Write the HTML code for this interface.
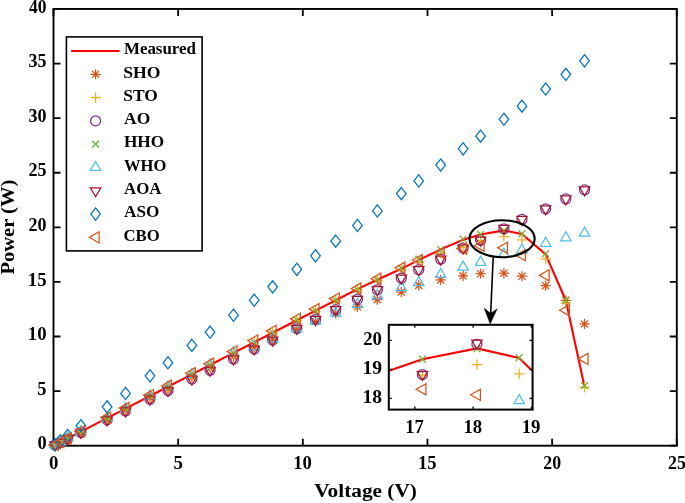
<!DOCTYPE html><html><head><meta charset="utf-8"><title>Power vs Voltage</title>
<style>html,body{margin:0;padding:0;background:#fff;overflow:hidden;}svg{display:block;will-change:transform;}text{font-family:"Liberation Serif",serif;font-weight:bold;fill:#000;}</style></head><body>
<svg width="685" height="503" viewBox="0 0 685 503">
<rect width="685" height="503" fill="#fff"/>
<g stroke="#000" stroke-width="1.9" fill="none">
<rect x="53.5" y="8.95" width="623.30" height="436.75"/>
<path d="M53.50 445.7V438.7M53.50 8.95V15.95M178.16 445.7V438.7M178.16 8.95V15.95M302.82 445.7V438.7M302.82 8.95V15.95M427.48 445.7V438.7M427.48 8.95V15.95M552.14 445.7V438.7M552.14 8.95V15.95M676.80 445.7V438.7M676.80 8.95V15.95M53.5 445.70H60.5M676.8 445.70H669.8M53.5 391.11H60.5M676.8 391.11H669.8M53.5 336.51H60.5M676.8 336.51H669.8M53.5 281.92H60.5M676.8 281.92H669.8M53.5 227.32H60.5M676.8 227.32H669.8M53.5 172.73H60.5M676.8 172.73H669.8M53.5 118.14H60.5M676.8 118.14H669.8M53.5 63.54H60.5M676.8 63.54H669.8M53.5 8.95H60.5M676.8 8.95H669.8" stroke-width="1.8"/>
</g>
<clipPath id="cm"><rect x="53.5" y="8.95" width="623.3" height="436.75"/></clipPath>
<polyline points="55.00,444.93 60.23,442.23 67.71,438.37 80.93,431.56 107.10,418.07 125.55,408.56 149.99,395.97 167.94,386.71 191.87,374.37 210.07,364.99 233.51,352.91 254.20,342.25 272.65,332.74 296.84,320.27 315.54,310.63 335.73,300.22 357.42,289.13 377.37,279.74 401.30,268.82 418.75,260.08 440.69,249.38 463.13,239.77 480.59,234.42 503.90,230.38 521.97,233.99 545.66,254.40 565.85,300.48 584.55,386.74" fill="none" stroke="#FF0000" stroke-width="2.1" stroke-linejoin="round"/>
<g fill="none" stroke-width="1.25" stroke-miterlimit="10">
<path transform="translate(55.00 444.96)" d="M-5.1 0H5.1M0 -5.1V5.1M-3.6 -3.6L3.6 3.6M-3.6 3.6L3.6 -3.6" stroke="#D95319"/>
<path transform="translate(60.23 442.37)" d="M-5.1 0H5.1M0 -5.1V5.1M-3.6 -3.6L3.6 3.6M-3.6 3.6L3.6 -3.6" stroke="#D95319"/>
<path transform="translate(67.71 438.67)" d="M-5.1 0H5.1M0 -5.1V5.1M-3.6 -3.6L3.6 3.6M-3.6 3.6L3.6 -3.6" stroke="#D95319"/>
<path transform="translate(80.93 432.13)" d="M-5.1 0H5.1M0 -5.1V5.1M-3.6 -3.6L3.6 3.6M-3.6 3.6L3.6 -3.6" stroke="#D95319"/>
<path transform="translate(107.10 419.17)" d="M-5.1 0H5.1M0 -5.1V5.1M-3.6 -3.6L3.6 3.6M-3.6 3.6L3.6 -3.6" stroke="#D95319"/>
<path transform="translate(125.55 410.04)" d="M-5.1 0H5.1M0 -5.1V5.1M-3.6 -3.6L3.6 3.6M-3.6 3.6L3.6 -3.6" stroke="#D95319"/>
<path transform="translate(149.99 397.95)" d="M-5.1 0H5.1M0 -5.1V5.1M-3.6 -3.6L3.6 3.6M-3.6 3.6L3.6 -3.6" stroke="#D95319"/>
<path transform="translate(167.94 389.07)" d="M-5.1 0H5.1M0 -5.1V5.1M-3.6 -3.6L3.6 3.6M-3.6 3.6L3.6 -3.6" stroke="#D95319"/>
<path transform="translate(191.87 377.22)" d="M-5.1 0H5.1M0 -5.1V5.1M-3.6 -3.6L3.6 3.6M-3.6 3.6L3.6 -3.6" stroke="#D95319"/>
<path transform="translate(210.07 368.22)" d="M-5.1 0H5.1M0 -5.1V5.1M-3.6 -3.6L3.6 3.6M-3.6 3.6L3.6 -3.6" stroke="#D95319"/>
<path transform="translate(233.51 356.62)" d="M-5.1 0H5.1M0 -5.1V5.1M-3.6 -3.6L3.6 3.6M-3.6 3.6L3.6 -3.6" stroke="#D95319"/>
<path transform="translate(254.20 347.35)" d="M-5.1 0H5.1M0 -5.1V5.1M-3.6 -3.6L3.6 3.6M-3.6 3.6L3.6 -3.6" stroke="#D95319"/>
<path transform="translate(272.65 339.38)" d="M-5.1 0H5.1M0 -5.1V5.1M-3.6 -3.6L3.6 3.6M-3.6 3.6L3.6 -3.6" stroke="#D95319"/>
<path transform="translate(296.84 329.20)" d="M-5.1 0H5.1M0 -5.1V5.1M-3.6 -3.6L3.6 3.6M-3.6 3.6L3.6 -3.6" stroke="#D95319"/>
<path transform="translate(315.54 321.53)" d="M-5.1 0H5.1M0 -5.1V5.1M-3.6 -3.6L3.6 3.6M-3.6 3.6L3.6 -3.6" stroke="#D95319"/>
<path transform="translate(335.73 313.47)" d="M-5.1 0H5.1M0 -5.1V5.1M-3.6 -3.6L3.6 3.6M-3.6 3.6L3.6 -3.6" stroke="#D95319"/>
<path transform="translate(357.42 306.81)" d="M-5.1 0H5.1M0 -5.1V5.1M-3.6 -3.6L3.6 3.6M-3.6 3.6L3.6 -3.6" stroke="#D95319"/>
<path transform="translate(377.37 299.61)" d="M-5.1 0H5.1M0 -5.1V5.1M-3.6 -3.6L3.6 3.6M-3.6 3.6L3.6 -3.6" stroke="#D95319"/>
<path transform="translate(401.30 292.07)" d="M-5.1 0H5.1M0 -5.1V5.1M-3.6 -3.6L3.6 3.6M-3.6 3.6L3.6 -3.6" stroke="#D95319"/>
<path transform="translate(418.75 285.41)" d="M-5.1 0H5.1M0 -5.1V5.1M-3.6 -3.6L3.6 3.6M-3.6 3.6L3.6 -3.6" stroke="#D95319"/>
<path transform="translate(440.69 279.95)" d="M-5.1 0H5.1M0 -5.1V5.1M-3.6 -3.6L3.6 3.6M-3.6 3.6L3.6 -3.6" stroke="#D95319"/>
<path transform="translate(463.13 275.80)" d="M-5.1 0H5.1M0 -5.1V5.1M-3.6 -3.6L3.6 3.6M-3.6 3.6L3.6 -3.6" stroke="#D95319"/>
<path transform="translate(480.59 273.73)" d="M-5.1 0H5.1M0 -5.1V5.1M-3.6 -3.6L3.6 3.6M-3.6 3.6L3.6 -3.6" stroke="#D95319"/>
<path transform="translate(503.90 273.18)" d="M-5.1 0H5.1M0 -5.1V5.1M-3.6 -3.6L3.6 3.6M-3.6 3.6L3.6 -3.6" stroke="#D95319"/>
<path transform="translate(521.97 276.24)" d="M-5.1 0H5.1M0 -5.1V5.1M-3.6 -3.6L3.6 3.6M-3.6 3.6L3.6 -3.6" stroke="#D95319"/>
<path transform="translate(545.66 285.63)" d="M-5.1 0H5.1M0 -5.1V5.1M-3.6 -3.6L3.6 3.6M-3.6 3.6L3.6 -3.6" stroke="#D95319"/>
<path transform="translate(565.85 300.48)" d="M-5.1 0H5.1M0 -5.1V5.1M-3.6 -3.6L3.6 3.6M-3.6 3.6L3.6 -3.6" stroke="#D95319"/>
<path transform="translate(584.55 323.96)" d="M-5.1 0H5.1M0 -5.1V5.1M-3.6 -3.6L3.6 3.6M-3.6 3.6L3.6 -3.6" stroke="#D95319"/>
<path transform="translate(55.00 444.93)" d="M-5.1 0H5.1M0 -5.1V5.1" stroke="#EDB120"/>
<path transform="translate(60.23 442.24)" d="M-5.1 0H5.1M0 -5.1V5.1" stroke="#EDB120"/>
<path transform="translate(67.71 438.39)" d="M-5.1 0H5.1M0 -5.1V5.1" stroke="#EDB120"/>
<path transform="translate(80.93 431.60)" d="M-5.1 0H5.1M0 -5.1V5.1" stroke="#EDB120"/>
<path transform="translate(107.10 418.14)" d="M-5.1 0H5.1M0 -5.1V5.1" stroke="#EDB120"/>
<path transform="translate(125.55 408.65)" d="M-5.1 0H5.1M0 -5.1V5.1" stroke="#EDB120"/>
<path transform="translate(149.99 396.09)" d="M-5.1 0H5.1M0 -5.1V5.1" stroke="#EDB120"/>
<path transform="translate(167.94 386.86)" d="M-5.1 0H5.1M0 -5.1V5.1" stroke="#EDB120"/>
<path transform="translate(191.87 374.56)" d="M-5.1 0H5.1M0 -5.1V5.1" stroke="#EDB120"/>
<path transform="translate(210.07 365.20)" d="M-5.1 0H5.1M0 -5.1V5.1" stroke="#EDB120"/>
<path transform="translate(233.51 353.15)" d="M-5.1 0H5.1M0 -5.1V5.1" stroke="#EDB120"/>
<path transform="translate(254.20 342.51)" d="M-5.1 0H5.1M0 -5.1V5.1" stroke="#EDB120"/>
<path transform="translate(272.65 333.02)" d="M-5.1 0H5.1M0 -5.1V5.1" stroke="#EDB120"/>
<path transform="translate(296.84 320.59)" d="M-5.1 0H5.1M0 -5.1V5.1" stroke="#EDB120"/>
<path transform="translate(315.54 310.98)" d="M-5.1 0H5.1M0 -5.1V5.1" stroke="#EDB120"/>
<path transform="translate(335.73 300.59)" d="M-5.1 0H5.1M0 -5.1V5.1" stroke="#EDB120"/>
<path transform="translate(357.42 289.56)" d="M-5.1 0H5.1M0 -5.1V5.1" stroke="#EDB120"/>
<path transform="translate(377.37 280.28)" d="M-5.1 0H5.1M0 -5.1V5.1" stroke="#EDB120"/>
<path transform="translate(401.30 269.91)" d="M-5.1 0H5.1M0 -5.1V5.1" stroke="#EDB120"/>
<path transform="translate(418.75 262.26)" d="M-5.1 0H5.1M0 -5.1V5.1" stroke="#EDB120"/>
<path transform="translate(440.69 253.09)" d="M-5.1 0H5.1M0 -5.1V5.1" stroke="#EDB120"/>
<path transform="translate(463.13 247.42)" d="M-5.1 0H5.1M0 -5.1V5.1" stroke="#EDB120"/>
<path transform="translate(480.59 240.43)" d="M-5.1 0H5.1M0 -5.1V5.1" stroke="#EDB120"/>
<path transform="translate(503.90 236.50)" d="M-5.1 0H5.1M0 -5.1V5.1" stroke="#EDB120"/>
<path transform="translate(521.97 239.99)" d="M-5.1 0H5.1M0 -5.1V5.1" stroke="#EDB120"/>
<path transform="translate(545.66 258.99)" d="M-5.1 0H5.1M0 -5.1V5.1" stroke="#EDB120"/>
<path transform="translate(565.85 303.21)" d="M-5.1 0H5.1M0 -5.1V5.1" stroke="#EDB120"/>
<path transform="translate(584.55 387.28)" d="M-5.1 0H5.1M0 -5.1V5.1" stroke="#EDB120"/>
<circle cx="55.00" cy="444.98" r="5" stroke="#7E2F8E"/>
<circle cx="60.23" cy="442.46" r="5" stroke="#7E2F8E"/>
<circle cx="67.71" cy="438.85" r="5" stroke="#7E2F8E"/>
<circle cx="80.93" cy="432.49" r="5" stroke="#7E2F8E"/>
<circle cx="107.10" cy="419.88" r="5" stroke="#7E2F8E"/>
<circle cx="125.55" cy="410.99" r="5" stroke="#7E2F8E"/>
<circle cx="149.99" cy="399.22" r="5" stroke="#7E2F8E"/>
<circle cx="167.94" cy="390.57" r="5" stroke="#7E2F8E"/>
<circle cx="191.87" cy="379.04" r="5" stroke="#7E2F8E"/>
<circle cx="210.07" cy="370.27" r="5" stroke="#7E2F8E"/>
<circle cx="233.51" cy="358.98" r="5" stroke="#7E2F8E"/>
<circle cx="254.20" cy="349.01" r="5" stroke="#7E2F8E"/>
<circle cx="272.65" cy="340.13" r="5" stroke="#7E2F8E"/>
<circle cx="296.84" cy="328.48" r="5" stroke="#7E2F8E"/>
<circle cx="315.54" cy="319.47" r="5" stroke="#7E2F8E"/>
<circle cx="335.73" cy="309.74" r="5" stroke="#7E2F8E"/>
<circle cx="357.42" cy="299.29" r="5" stroke="#7E2F8E"/>
<circle cx="377.37" cy="289.68" r="5" stroke="#7E2F8E"/>
<circle cx="401.30" cy="278.15" r="5" stroke="#7E2F8E"/>
<circle cx="418.75" cy="269.74" r="5" stroke="#7E2F8E"/>
<circle cx="440.69" cy="259.17" r="5" stroke="#7E2F8E"/>
<circle cx="463.13" cy="248.07" r="5" stroke="#7E2F8E"/>
<circle cx="480.59" cy="240.21" r="5" stroke="#7E2F8E"/>
<circle cx="503.90" cy="228.85" r="5" stroke="#7E2F8E"/>
<circle cx="521.97" cy="219.46" r="5" stroke="#7E2F8E"/>
<circle cx="545.66" cy="208.87" r="5" stroke="#7E2F8E"/>
<circle cx="565.85" cy="198.94" r="5" stroke="#7E2F8E"/>
<circle cx="584.55" cy="189.87" r="5" stroke="#7E2F8E"/>
<path transform="translate(55.00 444.93)" d="M-3.4 -3.4L3.4 3.4M-3.4 3.4L3.4 -3.4" stroke="#77AC30"/>
<path transform="translate(60.23 442.23)" d="M-3.4 -3.4L3.4 3.4M-3.4 3.4L3.4 -3.4" stroke="#77AC30"/>
<path transform="translate(67.71 438.38)" d="M-3.4 -3.4L3.4 3.4M-3.4 3.4L3.4 -3.4" stroke="#77AC30"/>
<path transform="translate(80.93 431.58)" d="M-3.4 -3.4L3.4 3.4M-3.4 3.4L3.4 -3.4" stroke="#77AC30"/>
<path transform="translate(107.10 418.09)" d="M-3.4 -3.4L3.4 3.4M-3.4 3.4L3.4 -3.4" stroke="#77AC30"/>
<path transform="translate(125.55 408.59)" d="M-3.4 -3.4L3.4 3.4M-3.4 3.4L3.4 -3.4" stroke="#77AC30"/>
<path transform="translate(149.99 396.01)" d="M-3.4 -3.4L3.4 3.4M-3.4 3.4L3.4 -3.4" stroke="#77AC30"/>
<path transform="translate(167.94 386.76)" d="M-3.4 -3.4L3.4 3.4M-3.4 3.4L3.4 -3.4" stroke="#77AC30"/>
<path transform="translate(191.87 374.44)" d="M-3.4 -3.4L3.4 3.4M-3.4 3.4L3.4 -3.4" stroke="#77AC30"/>
<path transform="translate(210.07 365.06)" d="M-3.4 -3.4L3.4 3.4M-3.4 3.4L3.4 -3.4" stroke="#77AC30"/>
<path transform="translate(233.51 352.99)" d="M-3.4 -3.4L3.4 3.4M-3.4 3.4L3.4 -3.4" stroke="#77AC30"/>
<path transform="translate(254.20 342.33)" d="M-3.4 -3.4L3.4 3.4M-3.4 3.4L3.4 -3.4" stroke="#77AC30"/>
<path transform="translate(272.65 332.83)" d="M-3.4 -3.4L3.4 3.4M-3.4 3.4L3.4 -3.4" stroke="#77AC30"/>
<path transform="translate(296.84 320.38)" d="M-3.4 -3.4L3.4 3.4M-3.4 3.4L3.4 -3.4" stroke="#77AC30"/>
<path transform="translate(315.54 310.75)" d="M-3.4 -3.4L3.4 3.4M-3.4 3.4L3.4 -3.4" stroke="#77AC30"/>
<path transform="translate(335.73 300.35)" d="M-3.4 -3.4L3.4 3.4M-3.4 3.4L3.4 -3.4" stroke="#77AC30"/>
<path transform="translate(357.42 289.56)" d="M-3.4 -3.4L3.4 3.4M-3.4 3.4L3.4 -3.4" stroke="#77AC30"/>
<path transform="translate(377.37 279.74)" d="M-3.4 -3.4L3.4 3.4M-3.4 3.4L3.4 -3.4" stroke="#77AC30"/>
<path transform="translate(401.30 268.27)" d="M-3.4 -3.4L3.4 3.4M-3.4 3.4L3.4 -3.4" stroke="#77AC30"/>
<path transform="translate(418.75 259.21)" d="M-3.4 -3.4L3.4 3.4M-3.4 3.4L3.4 -3.4" stroke="#77AC30"/>
<path transform="translate(440.69 249.71)" d="M-3.4 -3.4L3.4 3.4M-3.4 3.4L3.4 -3.4" stroke="#77AC30"/>
<path transform="translate(463.13 239.01)" d="M-3.4 -3.4L3.4 3.4M-3.4 3.4L3.4 -3.4" stroke="#77AC30"/>
<path transform="translate(480.59 234.42)" d="M-3.4 -3.4L3.4 3.4M-3.4 3.4L3.4 -3.4" stroke="#77AC30"/>
<path transform="translate(503.90 230.49)" d="M-3.4 -3.4L3.4 3.4M-3.4 3.4L3.4 -3.4" stroke="#77AC30"/>
<path transform="translate(521.97 233.88)" d="M-3.4 -3.4L3.4 3.4M-3.4 3.4L3.4 -3.4" stroke="#77AC30"/>
<path transform="translate(545.66 253.53)" d="M-3.4 -3.4L3.4 3.4M-3.4 3.4L3.4 -3.4" stroke="#77AC30"/>
<path transform="translate(565.85 300.15)" d="M-3.4 -3.4L3.4 3.4M-3.4 3.4L3.4 -3.4" stroke="#77AC30"/>
<path transform="translate(584.55 385.65)" d="M-3.4 -3.4L3.4 3.4M-3.4 3.4L3.4 -3.4" stroke="#77AC30"/>
<path transform="translate(55.00 444.93)" d="M0 -6L5.2 3L-5.2 3Z" stroke="#4DBEEE"/>
<path transform="translate(60.23 442.23)" d="M0 -6L5.2 3L-5.2 3Z" stroke="#4DBEEE"/>
<path transform="translate(67.71 438.37)" d="M0 -6L5.2 3L-5.2 3Z" stroke="#4DBEEE"/>
<path transform="translate(80.93 431.55)" d="M0 -6L5.2 3L-5.2 3Z" stroke="#4DBEEE"/>
<path transform="translate(107.10 418.05)" d="M0 -6L5.2 3L-5.2 3Z" stroke="#4DBEEE"/>
<path transform="translate(125.55 408.53)" d="M0 -6L5.2 3L-5.2 3Z" stroke="#4DBEEE"/>
<path transform="translate(149.99 395.92)" d="M0 -6L5.2 3L-5.2 3Z" stroke="#4DBEEE"/>
<path transform="translate(167.94 386.66)" d="M0 -6L5.2 3L-5.2 3Z" stroke="#4DBEEE"/>
<path transform="translate(191.87 374.31)" d="M0 -6L5.2 3L-5.2 3Z" stroke="#4DBEEE"/>
<path transform="translate(210.07 364.92)" d="M0 -6L5.2 3L-5.2 3Z" stroke="#4DBEEE"/>
<path transform="translate(233.51 352.83)" d="M0 -6L5.2 3L-5.2 3Z" stroke="#4DBEEE"/>
<path transform="translate(254.20 346.79)" d="M0 -6L5.2 3L-5.2 3Z" stroke="#4DBEEE"/>
<path transform="translate(272.65 338.83)" d="M0 -6L5.2 3L-5.2 3Z" stroke="#4DBEEE"/>
<path transform="translate(296.84 328.69)" d="M0 -6L5.2 3L-5.2 3Z" stroke="#4DBEEE"/>
<path transform="translate(315.54 321.07)" d="M0 -6L5.2 3L-5.2 3Z" stroke="#4DBEEE"/>
<path transform="translate(335.73 313.07)" d="M0 -6L5.2 3L-5.2 3Z" stroke="#4DBEEE"/>
<path transform="translate(357.42 304.41)" d="M0 -6L5.2 3L-5.2 3Z" stroke="#4DBEEE"/>
<path transform="translate(377.37 295.68)" d="M0 -6L5.2 3L-5.2 3Z" stroke="#4DBEEE"/>
<path transform="translate(401.30 287.60)" d="M0 -6L5.2 3L-5.2 3Z" stroke="#4DBEEE"/>
<path transform="translate(418.75 282.68)" d="M0 -6L5.2 3L-5.2 3Z" stroke="#4DBEEE"/>
<path transform="translate(440.69 274.38)" d="M0 -6L5.2 3L-5.2 3Z" stroke="#4DBEEE"/>
<path transform="translate(463.13 267.07)" d="M0 -6L5.2 3L-5.2 3Z" stroke="#4DBEEE"/>
<path transform="translate(480.59 262.26)" d="M0 -6L5.2 3L-5.2 3Z" stroke="#4DBEEE"/>
<path transform="translate(503.90 254.08)" d="M0 -6L5.2 3L-5.2 3Z" stroke="#4DBEEE"/>
<path transform="translate(521.97 250.04)" d="M0 -6L5.2 3L-5.2 3Z" stroke="#4DBEEE"/>
<path transform="translate(545.66 243.27)" d="M0 -6L5.2 3L-5.2 3Z" stroke="#4DBEEE"/>
<path transform="translate(565.85 237.81)" d="M0 -6L5.2 3L-5.2 3Z" stroke="#4DBEEE"/>
<path transform="translate(584.55 233.22)" d="M0 -6L5.2 3L-5.2 3Z" stroke="#4DBEEE"/>
<path transform="translate(55.00 444.98)" d="M0 6L5.2 -3L-5.2 -3Z" stroke="#A2142F"/>
<path transform="translate(60.23 442.46)" d="M0 6L5.2 -3L-5.2 -3Z" stroke="#A2142F"/>
<path transform="translate(67.71 438.85)" d="M0 6L5.2 -3L-5.2 -3Z" stroke="#A2142F"/>
<path transform="translate(80.93 432.49)" d="M0 6L5.2 -3L-5.2 -3Z" stroke="#A2142F"/>
<path transform="translate(107.10 419.88)" d="M0 6L5.2 -3L-5.2 -3Z" stroke="#A2142F"/>
<path transform="translate(125.55 410.99)" d="M0 6L5.2 -3L-5.2 -3Z" stroke="#A2142F"/>
<path transform="translate(149.99 399.22)" d="M0 6L5.2 -3L-5.2 -3Z" stroke="#A2142F"/>
<path transform="translate(167.94 390.57)" d="M0 6L5.2 -3L-5.2 -3Z" stroke="#A2142F"/>
<path transform="translate(191.87 379.04)" d="M0 6L5.2 -3L-5.2 -3Z" stroke="#A2142F"/>
<path transform="translate(210.07 370.27)" d="M0 6L5.2 -3L-5.2 -3Z" stroke="#A2142F"/>
<path transform="translate(233.51 358.98)" d="M0 6L5.2 -3L-5.2 -3Z" stroke="#A2142F"/>
<path transform="translate(254.20 349.01)" d="M0 6L5.2 -3L-5.2 -3Z" stroke="#A2142F"/>
<path transform="translate(272.65 340.13)" d="M0 6L5.2 -3L-5.2 -3Z" stroke="#A2142F"/>
<path transform="translate(296.84 328.48)" d="M0 6L5.2 -3L-5.2 -3Z" stroke="#A2142F"/>
<path transform="translate(315.54 319.47)" d="M0 6L5.2 -3L-5.2 -3Z" stroke="#A2142F"/>
<path transform="translate(335.73 309.74)" d="M0 6L5.2 -3L-5.2 -3Z" stroke="#A2142F"/>
<path transform="translate(357.42 299.29)" d="M0 6L5.2 -3L-5.2 -3Z" stroke="#A2142F"/>
<path transform="translate(377.37 289.68)" d="M0 6L5.2 -3L-5.2 -3Z" stroke="#A2142F"/>
<path transform="translate(401.30 278.15)" d="M0 6L5.2 -3L-5.2 -3Z" stroke="#A2142F"/>
<path transform="translate(418.75 269.74)" d="M0 6L5.2 -3L-5.2 -3Z" stroke="#A2142F"/>
<path transform="translate(440.69 259.17)" d="M0 6L5.2 -3L-5.2 -3Z" stroke="#A2142F"/>
<path transform="translate(463.13 248.07)" d="M0 6L5.2 -3L-5.2 -3Z" stroke="#A2142F"/>
<path transform="translate(480.59 240.21)" d="M0 6L5.2 -3L-5.2 -3Z" stroke="#A2142F"/>
<path transform="translate(503.90 228.42)" d="M0 6L5.2 -3L-5.2 -3Z" stroke="#A2142F"/>
<path transform="translate(521.97 219.46)" d="M0 6L5.2 -3L-5.2 -3Z" stroke="#A2142F"/>
<path transform="translate(545.66 208.87)" d="M0 6L5.2 -3L-5.2 -3Z" stroke="#A2142F"/>
<path transform="translate(565.85 198.94)" d="M0 6L5.2 -3L-5.2 -3Z" stroke="#A2142F"/>
<path transform="translate(584.55 189.87)" d="M0 6L5.2 -3L-5.2 -3Z" stroke="#A2142F"/>
<path transform="translate(55.00 444.62)" d="M0 -6.1L4.8 0L0 6.1L-4.8 0Z" stroke="#0072BD"/>
<path transform="translate(60.23 440.82)" d="M0 -6.1L4.8 0L0 6.1L-4.8 0Z" stroke="#0072BD"/>
<path transform="translate(67.71 435.40)" d="M0 -6.1L4.8 0L0 6.1L-4.8 0Z" stroke="#0072BD"/>
<path transform="translate(80.93 425.82)" d="M0 -6.1L4.8 0L0 6.1L-4.8 0Z" stroke="#0072BD"/>
<path transform="translate(107.10 406.85)" d="M0 -6.1L4.8 0L0 6.1L-4.8 0Z" stroke="#0072BD"/>
<path transform="translate(125.55 393.48)" d="M0 -6.1L4.8 0L0 6.1L-4.8 0Z" stroke="#0072BD"/>
<path transform="translate(149.99 375.77)" d="M0 -6.1L4.8 0L0 6.1L-4.8 0Z" stroke="#0072BD"/>
<path transform="translate(167.94 362.76)" d="M0 -6.1L4.8 0L0 6.1L-4.8 0Z" stroke="#0072BD"/>
<path transform="translate(191.87 345.41)" d="M0 -6.1L4.8 0L0 6.1L-4.8 0Z" stroke="#0072BD"/>
<path transform="translate(210.07 332.22)" d="M0 -6.1L4.8 0L0 6.1L-4.8 0Z" stroke="#0072BD"/>
<path transform="translate(233.51 315.23)" d="M0 -6.1L4.8 0L0 6.1L-4.8 0Z" stroke="#0072BD"/>
<path transform="translate(254.20 300.23)" d="M0 -6.1L4.8 0L0 6.1L-4.8 0Z" stroke="#0072BD"/>
<path transform="translate(272.65 286.86)" d="M0 -6.1L4.8 0L0 6.1L-4.8 0Z" stroke="#0072BD"/>
<path transform="translate(296.84 269.33)" d="M0 -6.1L4.8 0L0 6.1L-4.8 0Z" stroke="#0072BD"/>
<path transform="translate(315.54 255.78)" d="M0 -6.1L4.8 0L0 6.1L-4.8 0Z" stroke="#0072BD"/>
<path transform="translate(335.73 241.14)" d="M0 -6.1L4.8 0L0 6.1L-4.8 0Z" stroke="#0072BD"/>
<path transform="translate(357.42 225.42)" d="M0 -6.1L4.8 0L0 6.1L-4.8 0Z" stroke="#0072BD"/>
<path transform="translate(377.37 210.96)" d="M0 -6.1L4.8 0L0 6.1L-4.8 0Z" stroke="#0072BD"/>
<path transform="translate(401.30 193.62)" d="M0 -6.1L4.8 0L0 6.1L-4.8 0Z" stroke="#0072BD"/>
<path transform="translate(418.75 180.97)" d="M0 -6.1L4.8 0L0 6.1L-4.8 0Z" stroke="#0072BD"/>
<path transform="translate(440.69 165.06)" d="M0 -6.1L4.8 0L0 6.1L-4.8 0Z" stroke="#0072BD"/>
<path transform="translate(463.13 148.80)" d="M0 -6.1L4.8 0L0 6.1L-4.8 0Z" stroke="#0072BD"/>
<path transform="translate(480.59 136.15)" d="M0 -6.1L4.8 0L0 6.1L-4.8 0Z" stroke="#0072BD"/>
<path transform="translate(503.90 119.26)" d="M0 -6.1L4.8 0L0 6.1L-4.8 0Z" stroke="#0072BD"/>
<path transform="translate(521.97 106.15)" d="M0 -6.1L4.8 0L0 6.1L-4.8 0Z" stroke="#0072BD"/>
<path transform="translate(545.66 88.99)" d="M0 -6.1L4.8 0L0 6.1L-4.8 0Z" stroke="#0072BD"/>
<path transform="translate(565.85 74.35)" d="M0 -6.1L4.8 0L0 6.1L-4.8 0Z" stroke="#0072BD"/>
<path transform="translate(584.55 60.80)" d="M0 -6.1L4.8 0L0 6.1L-4.8 0Z" stroke="#0072BD"/>
<path transform="translate(55.00 444.92)" d="M-6.3 0L3.5 -5.6L3.5 5.6Z" stroke="#D95319"/>
<path transform="translate(60.23 442.17)" d="M-6.3 0L3.5 -5.6L3.5 5.6Z" stroke="#D95319"/>
<path transform="translate(67.71 438.26)" d="M-6.3 0L3.5 -5.6L3.5 5.6Z" stroke="#D95319"/>
<path transform="translate(80.93 431.34)" d="M-6.3 0L3.5 -5.6L3.5 5.6Z" stroke="#D95319"/>
<path transform="translate(107.10 417.62)" d="M-6.3 0L3.5 -5.6L3.5 5.6Z" stroke="#D95319"/>
<path transform="translate(125.55 407.96)" d="M-6.3 0L3.5 -5.6L3.5 5.6Z" stroke="#D95319"/>
<path transform="translate(149.99 395.16)" d="M-6.3 0L3.5 -5.6L3.5 5.6Z" stroke="#D95319"/>
<path transform="translate(167.94 385.76)" d="M-6.3 0L3.5 -5.6L3.5 5.6Z" stroke="#D95319"/>
<path transform="translate(191.87 373.22)" d="M-6.3 0L3.5 -5.6L3.5 5.6Z" stroke="#D95319"/>
<path transform="translate(210.07 363.69)" d="M-6.3 0L3.5 -5.6L3.5 5.6Z" stroke="#D95319"/>
<path transform="translate(233.51 351.42)" d="M-6.3 0L3.5 -5.6L3.5 5.6Z" stroke="#D95319"/>
<path transform="translate(254.20 340.58)" d="M-6.3 0L3.5 -5.6L3.5 5.6Z" stroke="#D95319"/>
<path transform="translate(272.65 330.91)" d="M-6.3 0L3.5 -5.6L3.5 5.6Z" stroke="#D95319"/>
<path transform="translate(296.84 318.89)" d="M-6.3 0L3.5 -5.6L3.5 5.6Z" stroke="#D95319"/>
<path transform="translate(315.54 309.14)" d="M-6.3 0L3.5 -5.6L3.5 5.6Z" stroke="#D95319"/>
<path transform="translate(335.73 298.62)" d="M-6.3 0L3.5 -5.6L3.5 5.6Z" stroke="#D95319"/>
<path transform="translate(357.42 288.47)" d="M-6.3 0L3.5 -5.6L3.5 5.6Z" stroke="#D95319"/>
<path transform="translate(377.37 278.75)" d="M-6.3 0L3.5 -5.6L3.5 5.6Z" stroke="#D95319"/>
<path transform="translate(401.30 267.72)" d="M-6.3 0L3.5 -5.6L3.5 5.6Z" stroke="#D95319"/>
<path transform="translate(418.75 260.08)" d="M-6.3 0L3.5 -5.6L3.5 5.6Z" stroke="#D95319"/>
<path transform="translate(440.69 252.87)" d="M-6.3 0L3.5 -5.6L3.5 5.6Z" stroke="#D95319"/>
<path transform="translate(463.13 248.62)" d="M-6.3 0L3.5 -5.6L3.5 5.6Z" stroke="#D95319"/>
<path transform="translate(480.59 245.78)" d="M-6.3 0L3.5 -5.6L3.5 5.6Z" stroke="#D95319"/>
<path transform="translate(503.90 247.85)" d="M-6.3 0L3.5 -5.6L3.5 5.6Z" stroke="#D95319"/>
<path transform="translate(521.97 255.17)" d="M-6.3 0L3.5 -5.6L3.5 5.6Z" stroke="#D95319"/>
<path transform="translate(545.66 275.37)" d="M-6.3 0L3.5 -5.6L3.5 5.6Z" stroke="#D95319"/>
<path transform="translate(565.85 310.31)" d="M-6.3 0L3.5 -5.6L3.5 5.6Z" stroke="#D95319"/>
<path transform="translate(584.55 358.90)" d="M-6.3 0L3.5 -5.6L3.5 5.6Z" stroke="#D95319"/>
</g>
<text x="48.93" y="468.50" font-size="18.4" textLength="9.43" lengthAdjust="spacingAndGlyphs">0</text>
<text x="173.55" y="468.50" font-size="18.4" textLength="9.46" lengthAdjust="spacingAndGlyphs">5</text>
<text x="293.28" y="468.50" font-size="18.4" textLength="18.59" lengthAdjust="spacingAndGlyphs">10</text>
<text x="417.94" y="468.50" font-size="18.4" textLength="18.57" lengthAdjust="spacingAndGlyphs">15</text>
<text x="543.34" y="468.50" font-size="18.4" textLength="17.83" lengthAdjust="spacingAndGlyphs">20</text>
<text x="668.00" y="468.50" font-size="18.4" textLength="17.81" lengthAdjust="spacingAndGlyphs">25</text>
<text x="37.40" y="449.30" font-size="18.4" textLength="9.20" lengthAdjust="spacingAndGlyphs">0</text>
<text x="37.36" y="394.71" font-size="18.4" textLength="9.22" lengthAdjust="spacingAndGlyphs">5</text>
<text x="27.79" y="340.11" font-size="18.4" textLength="18.82" lengthAdjust="spacingAndGlyphs">10</text>
<text x="27.80" y="285.52" font-size="18.4" textLength="18.80" lengthAdjust="spacingAndGlyphs">15</text>
<text x="28.54" y="230.92" font-size="18.4" textLength="18.04" lengthAdjust="spacingAndGlyphs">20</text>
<text x="28.54" y="176.33" font-size="18.4" textLength="18.02" lengthAdjust="spacingAndGlyphs">25</text>
<text x="28.62" y="121.74" font-size="18.4" textLength="17.97" lengthAdjust="spacingAndGlyphs">30</text>
<text x="28.62" y="67.14" font-size="18.4" textLength="17.95" lengthAdjust="spacingAndGlyphs">35</text>
<text x="29.05" y="12.55" font-size="18.4" textLength="17.51" lengthAdjust="spacingAndGlyphs">40</text>
<text x="314.17" y="496.90" font-size="19.8" textLength="102.78" lengthAdjust="spacingAndGlyphs">Voltage (V)</text>
<text transform="translate(14.20 274.55) rotate(-90)" x="0" y="0" font-size="19.3" textLength="94.85" lengthAdjust="spacingAndGlyphs">Power (W)</text>
<rect x="66.4" y="36.9" width="135.70" height="214.00" fill="#fff" stroke="#000" stroke-width="1.6"/>
<line x1="71.2" y1="50.95" x2="119.6" y2="50.95" stroke="#FF0000" stroke-width="2.1"/>
<text x="123.91" y="54.25" font-size="17.7" textLength="72.07" lengthAdjust="spacingAndGlyphs">Measured</text>
<g fill="none" stroke-width="1.25">
<path transform="translate(95.60 74.25)" d="M-5.1 0H5.1M0 -5.1V5.1M-3.6 -3.6L3.6 3.6M-3.6 3.6L3.6 -3.6" stroke="#D95319"/>
<path transform="translate(95.60 97.55)" d="M-5.1 0H5.1M0 -5.1V5.1" stroke="#EDB120"/>
<circle cx="95.60" cy="120.85" r="5" stroke="#7E2F8E"/>
<path transform="translate(95.60 144.15)" d="M-3.4 -3.4L3.4 3.4M-3.4 3.4L3.4 -3.4" stroke="#77AC30"/>
<path transform="translate(95.60 167.45)" d="M0 -6L5.2 3L-5.2 3Z" stroke="#4DBEEE"/>
<path transform="translate(95.60 190.75)" d="M0 6L5.2 -3L-5.2 -3Z" stroke="#A2142F"/>
<path transform="translate(95.60 214.05)" d="M0 -6.1L4.8 0L0 6.1L-4.8 0Z" stroke="#0072BD"/>
<path transform="translate(95.60 237.35)" d="M-6.3 0L3.5 -5.6L3.5 5.6Z" stroke="#D95319"/>
</g>
<text x="123.26" y="77.55" font-size="17.7" textLength="37.30" lengthAdjust="spacingAndGlyphs">SHO</text>
<text x="123.28" y="100.85" font-size="17.7" textLength="34.58" lengthAdjust="spacingAndGlyphs">STO</text>
<text x="124.03" y="124.15" font-size="17.7" textLength="26.23" lengthAdjust="spacingAndGlyphs">AO</text>
<text x="123.91" y="147.45" font-size="17.7" textLength="40.23" lengthAdjust="spacingAndGlyphs">HHO</text>
<text x="123.97" y="170.75" font-size="17.7" textLength="42.34" lengthAdjust="spacingAndGlyphs">WHO</text>
<text x="124.03" y="194.05" font-size="17.7" textLength="37.49" lengthAdjust="spacingAndGlyphs">AOA</text>
<text x="124.03" y="217.35" font-size="17.7" textLength="35.42" lengthAdjust="spacingAndGlyphs">ASO</text>
<text x="123.38" y="240.65" font-size="17.7" textLength="36.34" lengthAdjust="spacingAndGlyphs">CBO</text>
<ellipse cx="502.1" cy="238.7" rx="32.6" ry="18.5" fill="none" stroke="#000" stroke-width="2.1"/>
<line x1="493.2" y1="257.5" x2="490.6" y2="315" stroke="#000" stroke-width="1.6"/>
<path d="M490.2 324.1L484.0 308.0L490.6 313.3L497.3 308.8Z" fill="#000" stroke="#000" stroke-width="0.4" stroke-linejoin="miter"/>
<rect x="388.8" y="324.8" width="143.80" height="84.80" fill="#fff"/>
<clipPath id="ci"><rect x="388.8" y="324.8" width="143.80" height="84.80"/></clipPath>
<polyline points="-572.33,918.25 -560.09,911.08 -542.61,900.84 -511.72,882.75 -450.53,846.91 -407.41,821.66 -350.30,788.21 -308.34,763.63 -252.40,730.86 -209.86,705.94 -155.08,673.86 -106.71,645.53 -63.59,620.27 -7.06,587.16 36.65,561.56 83.85,533.91 134.55,504.44 181.17,479.50 237.11,450.50 277.90,427.30 329.19,398.88 381.63,373.36 422.43,359.15 476.91,348.42 519.16,357.99 574.52,412.22 621.73,534.60 665.43,763.70" fill="none" stroke="#FF0000" stroke-width="2.1" clip-path="url(#ci)"/>
<g fill="none" stroke-width="1.25">
<path transform="translate(422.43 375.10)" d="M-5.1 0H5.1M0 -5.1V5.1" stroke="#EDB120"/>
<path transform="translate(476.91 364.66)" d="M-5.1 0H5.1M0 -5.1V5.1" stroke="#EDB120"/>
<path transform="translate(519.16 373.94)" d="M-5.1 0H5.1M0 -5.1V5.1" stroke="#EDB120"/>
<circle cx="422.43" cy="374.52" r="5" stroke="#7E2F8E"/>
<circle cx="476.91" cy="344.36" r="5" stroke="#7E2F8E"/>
<path transform="translate(422.43 359.15)" d="M-3.4 -3.4L3.4 3.4M-3.4 3.4L3.4 -3.4" stroke="#77AC30"/>
<path transform="translate(476.91 348.71)" d="M-3.4 -3.4L3.4 3.4M-3.4 3.4L3.4 -3.4" stroke="#77AC30"/>
<path transform="translate(519.16 357.70)" d="M-3.4 -3.4L3.4 3.4M-3.4 3.4L3.4 -3.4" stroke="#77AC30"/>
<path transform="translate(519.16 400.62)" d="M0 -6L5.2 3L-5.2 3Z" stroke="#4DBEEE"/>
<path transform="translate(422.43 374.52)" d="M0 6L5.2 -3L-5.2 -3Z" stroke="#A2142F"/>
<path transform="translate(476.91 343.20)" d="M0 6L5.2 -3L-5.2 -3Z" stroke="#A2142F"/>
<path transform="translate(422.43 389.31)" d="M-6.3 0L3.5 -5.6L3.5 5.6Z" stroke="#D95319"/>
<path transform="translate(476.91 394.82)" d="M-6.3 0L3.5 -5.6L3.5 5.6Z" stroke="#D95319"/>
</g>
<rect x="388.8" y="324.8" width="143.80" height="84.80" fill="none" stroke="#000" stroke-width="2"/>
<path d="M414.85 409.6V406.6M414.85 324.8V327.8M473.12 409.6V406.6M473.12 324.8V327.8M531.40 409.6V406.6M531.40 324.8V327.8M388.8 398.30H391.8M532.6 398.30H529.6M388.8 369.30H391.8M532.6 369.30H529.6M388.8 340.30H391.8M532.6 340.30H529.6" stroke="#000" stroke-width="1.3" fill="none"/>
<text x="405.17" y="433.00" font-size="18.4" textLength="18.53" lengthAdjust="spacingAndGlyphs">17</text>
<text x="463.43" y="433.00" font-size="18.4" textLength="18.71" lengthAdjust="spacingAndGlyphs">18</text>
<text x="521.70" y="433.00" font-size="18.4" textLength="18.78" lengthAdjust="spacingAndGlyphs">19</text>
<text x="362.44" y="402.60" font-size="18.4" textLength="19.50" lengthAdjust="spacingAndGlyphs">18</text>
<text x="362.43" y="373.60" font-size="18.4" textLength="19.57" lengthAdjust="spacingAndGlyphs">19</text>
<text x="363.21" y="344.60" font-size="18.4" textLength="18.80" lengthAdjust="spacingAndGlyphs">20</text>
</svg></body></html>
